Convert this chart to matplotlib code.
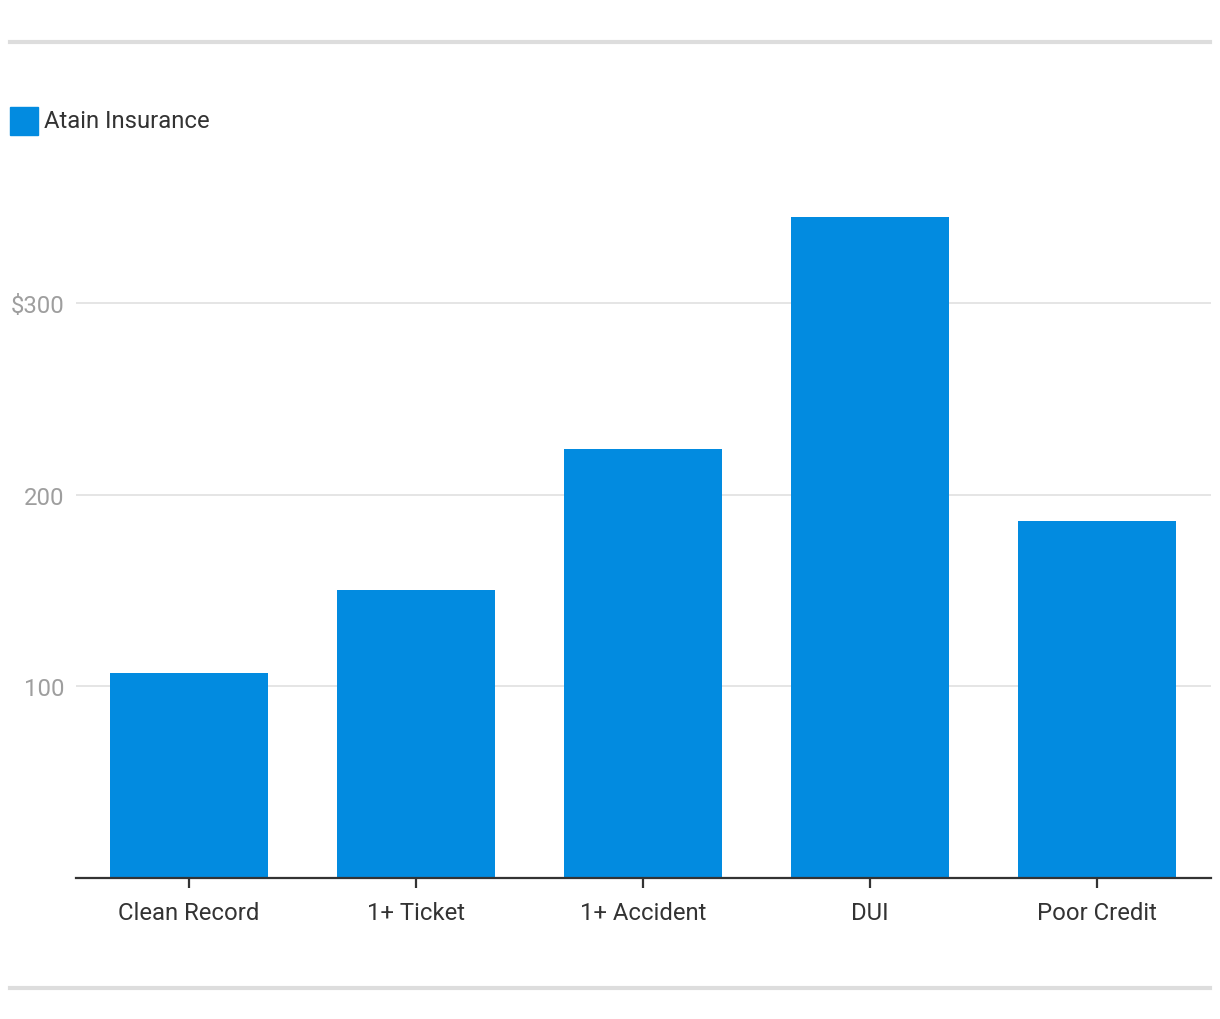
import matplotlib
matplotlib.use("Agg")
import matplotlib.pyplot as plt
from matplotlib.patches import Rectangle
from matplotlib.lines import Line2D

categories = ["Clean Record", "1+ Ticket", "1+ Accident", "DUI", "Poor Credit"]
values = [107, 150, 224, 345, 186]
series_name = "Atain Insurance"
yticks = [100, 200, 300]
ytick_labels = ["100", "200", "$300"]

W, H = 1220, 1020
fig = plt.figure(figsize=(W / 100, H / 100), dpi=100)
plt.rcParams['font.family'] = ['Roboto', 'DejaVu Sans']

bar_color = "#028be0"
ymax = 370
ax_left, ax_right, ax_bottom_px = 75.5, 1210.5, 879
px_per_unit = 191.7 / 100
ax_top_px = ax_bottom_px - ymax * px_per_unit
ax = fig.add_axes([ax_left / W, 1 - ax_bottom_px / H, (ax_right - ax_left) / W, (ax_bottom_px - ax_top_px) / H])

x = list(range(len(categories)))
ax.bar(x, values, width=0.7, color=bar_color, zorder=3)
ax.set_xlim(-0.5, len(categories) - 0.5)
ax.set_ylim(0, ymax)
ax.set_yticks(yticks)
ax.set_yticklabels(ytick_labels)
ax.set_xticks(x)
ax.set_xticklabels(categories)
ax.grid(axis="y", color="#e3e3e3", linewidth=1.3, zorder=0)
for s in ["top", "right", "left"]:
    ax.spines[s].set_visible(False)
ax.spines["bottom"].set_color("#333333")
ax.spines["bottom"].set_linewidth(1.6)
ax.spines["bottom"].set_zorder(4)
ax.tick_params(axis="y", length=0, pad=8, labelsize=17.2, labelcolor="#9e9e9e")
ax.tick_params(axis="x", length=7, width=1.6, color="#333333", pad=9.5, labelsize=17.2, labelcolor="#333333")

# decorative rules
fig.add_artist(Line2D([10 / W, 1210 / W], [1 - 42.5 / H, 1 - 42.5 / H], color="#dddddd", linewidth=3, transform=fig.transFigure))
fig.add_artist(Line2D([10 / W, 1210 / W], [1 - 988.5 / H, 1 - 988.5 / H], color="#dddddd", linewidth=3, transform=fig.transFigure))

# legend
fig.add_artist(Rectangle((10 / W, 1 - 136 / H), 28 / W, 28 / H, color=bar_color, transform=fig.transFigure))
fig.text(44 / W, 1 - 122 / H, series_name, fontsize=17.2, color="#333333", va="center", ha="left")

fig.savefig("out.png", dpi=100, facecolor="white")
